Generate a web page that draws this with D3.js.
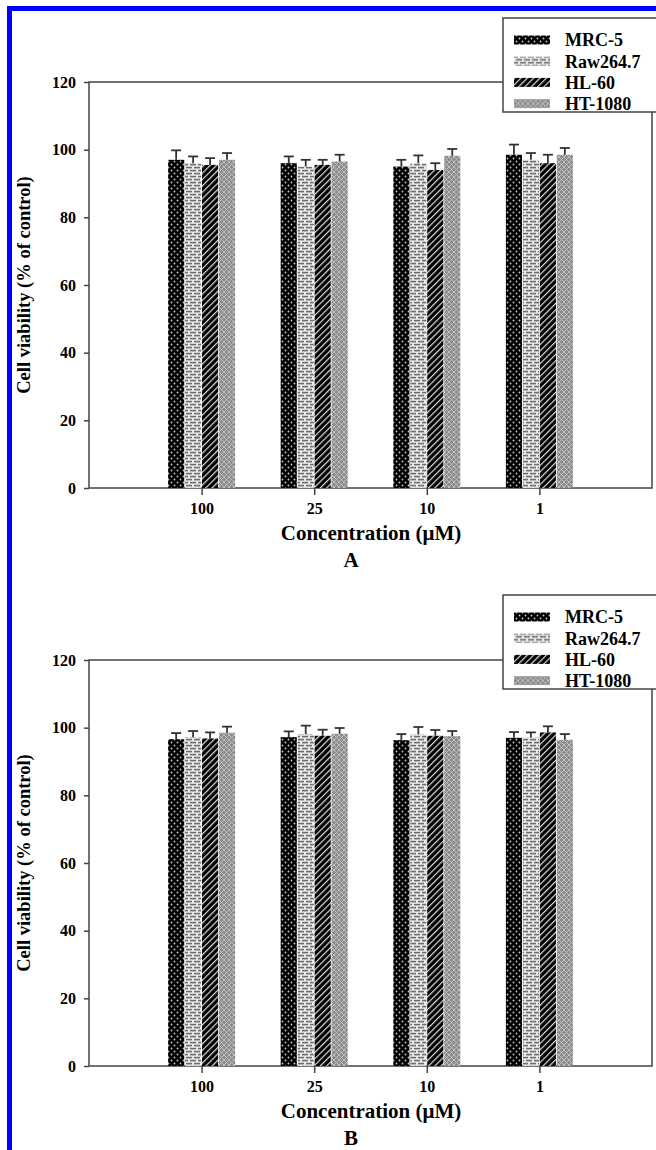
<!DOCTYPE html>
<html lang="en">
<head>
<meta charset="UTF-8">
<title>Cell viability</title>
<script src="https://cdn.jsdelivr.net/npm/d3@7"></script>
<style>
  body { margin: 0; background: #fff; }
  svg { display: block; font-family: "Liberation Serif", "Times New Roman", serif; }
</style>
</head>
<body>
<svg width="656" height="1150"></svg>
<script>
// categories / series
var concentrations = ["100", "25", "10", "1"];
var seriesNames = ["MRC-5", "Raw264.7", "HL-60", "HT-1080"];
var yTicks = [0, 20, 40, 60, 80, 100, 120];

// panel A means and errors (per series, per concentration)
var meanA_MRC5 = [97, 96, 95, 98.5];
var meanA_Raw = [96, 95, 96, 97];
var meanA_HL60 = [95.5, 95.5, 94, 96];
var meanA_HT1080 = [97, 96.5, 98.2, 98.5];
var errA_MRC5 = [2.8, 2, 2, 3];
var errA_Raw = [2, 2, 2.3, 2];
var errA_HL60 = [2, 1.5, 2, 2.5];
var errA_HT1080 = [2, 2, 2, 2];

// panel B
var meanB_MRC5 = [96.6, 97.2, 96.3, 97];
var meanB_Raw = [97.2, 98.1, 98, 97.1];
var meanB_HL60 = [96.8, 97.6, 97.6, 98.6];
var meanB_HT1080 = [98.5, 98.2, 97.5, 96.4];
var errB_MRC5 = [1.8, 1.7, 1.8, 1.7];
var errB_Raw = [1.8, 2.5, 2.2, 1.5];
var errB_HL60 = [1.8, 1.8, 1.7, 1.8];
var errB_HT1080 = [1.8, 1.7, 1.5, 1.7];

var svg = d3.select("svg");

// fill patterns for the four series
var defs = svg.append("defs");
var p;
p = defs.append("pattern").attr("id", "pat0").attr("patternUnits", "userSpaceOnUse")
  .attr("width", 6).attr("height", 6);
p.append("rect").attr("width", 6).attr("height", 6).attr("fill", "#000");
p.append("circle").attr("cx", 1.5).attr("cy", 1.5).attr("r", 0.9).attr("fill", "#c8c8c8");
p.append("circle").attr("cx", 4.5).attr("cy", 4.5).attr("r", 0.9).attr("fill", "#c8c8c8");

p = defs.append("pattern").attr("id", "pat1").attr("patternUnits", "userSpaceOnUse")
  .attr("width", 8).attr("height", 6);
p.append("rect").attr("width", 8).attr("height", 6).attr("fill", "#eaeaea");
p.append("rect").attr("x", 1).attr("y", 0.8).attr("width", 6).attr("height", 1.6).attr("fill", "#6e6e6e");
p.append("rect").attr("x", 0).attr("y", 3.8).attr("width", 3).attr("height", 1.6).attr("fill", "#6e6e6e");
p.append("rect").attr("x", 5).attr("y", 3.8).attr("width", 3).attr("height", 1.6).attr("fill", "#6e6e6e");

p = defs.append("pattern").attr("id", "pat2").attr("patternUnits", "userSpaceOnUse")
  .attr("width", 4.5).attr("height", 4.5).attr("patternTransform", "rotate(45)");
p.append("rect").attr("width", 4.5).attr("height", 4.5).attr("fill", "#000");
p.append("rect").attr("x", 0).attr("width", 1.2).attr("height", 4.5).attr("fill", "#ddd");

p = defs.append("pattern").attr("id", "pat3").attr("patternUnits", "userSpaceOnUse")
  .attr("width", 5).attr("height", 5);
p.append("rect").attr("width", 5).attr("height", 5).attr("fill", "#8c8c8c");
p.append("path").attr("d", "M0,0L5,5M5,0L0,5").attr("stroke", "#c4c4c4").attr("stroke-width", 0.9);

var fills = ["url(#pat0)", "url(#pat1)", "url(#pat2)", "url(#pat3)"];

// blue border (left and top only)
svg.append("rect").attr("x", 7).attr("y", 6).attr("width", 5).attr("height", 1150).attr("fill", "#0000ff");
svg.append("rect").attr("x", 7).attr("y", 6).attr("width", 660).attr("height", 5).attr("fill", "#0000ff");

var marge = {left: 89, right: 4};
var pw = 656 - marge.left - marge.right;
var ph = 406;

function drawPanel(top, means, errs, letter, legendTop) {
  var g = svg.append("g").attr("transform", "translate(" + marge.left + "," + top + ")");

  var x = d3.scalePoint().domain(concentrations).range([0, pw]).padding(1);
  var xs = d3.scaleBand().domain(seriesNames).range([-33.5, 33.5]).paddingInner(0.05);
  var y = d3.scaleLinear().domain([0, 120]).range([ph, 0]);

  // frame
  g.append("rect").attr("width", pw).attr("height", ph)
    .attr("fill", "none").attr("stroke", "#444").attr("stroke-width", 1.5);

  // bars
  var rows = [];
  seriesNames.forEach(function(s, si) {
    concentrations.forEach(function(c, ci) {
      rows.push({s: s, si: si, c: c, v: means[si][ci], e: errs[si][ci]});
    });
  });

  g.selectAll(".bar").data(rows).enter().append("rect")
    .attr("x", function(d) { return x(d.c) + xs(d.s); })
    .attr("y", function(d) { return y(d.v); })
    .attr("width", xs.bandwidth())
    .attr("height", function(d) { return ph - y(d.v); })
    .attr("fill", function(d) { return fills[d.si]; });

  // error bars, upward only
  var eb = g.selectAll(".err").data(rows).enter().append("g")
    .attr("transform", function(d) { return "translate(" + (x(d.c) + xs(d.s) + xs.bandwidth() / 2) + ",0)"; });
  eb.append("line")
    .attr("y1", function(d) { return y(d.v); })
    .attr("y2", function(d) { return y(d.v + d.e); })
    .attr("stroke", "#333").attr("stroke-width", 1.8);
  eb.append("line")
    .attr("x1", -5).attr("x2", 5)
    .attr("y1", function(d) { return y(d.v + d.e); })
    .attr("y2", function(d) { return y(d.v + d.e); })
    .attr("stroke", "#333").attr("stroke-width", 1.8);

  // axes
  var ya = g.append("g").call(d3.axisLeft(y).tickValues(yTicks).tickSize(5).tickPadding(8));
  var xa = g.append("g").attr("transform", "translate(0," + ph + ")")
    .call(d3.axisBottom(x).tickSize(7).tickPadding(8));
  [ya, xa].forEach(function(a) {
    a.attr("font-family", "Liberation Serif, serif").attr("font-size", 16).attr("font-weight", "bold");
    a.select(".domain").remove();
    a.selectAll(".tick line").attr("stroke", "#444").attr("stroke-width", 1.5);
    a.selectAll(".tick text").attr("fill", "#000");
  });

  // axis titles
  svg.append("text")
    .attr("transform", "translate(30," + (top + ph / 2) + ") rotate(-90)")
    .attr("text-anchor", "middle")
    .attr("font-size", 18.5).attr("font-weight", "bold")
    .text("Cell viability (% of control)");
  svg.append("text")
    .attr("x", 371).attr("y", top + ph + 52)
    .attr("text-anchor", "middle")
    .attr("font-size", 21).attr("font-weight", "bold")
    .text("Concentration (\u03bcM)");
  svg.append("text")
    .attr("x", 351).attr("y", top + ph + 79)
    .attr("text-anchor", "middle")
    .attr("font-size", 21).attr("font-weight", "bold")
    .text(letter);

  // legend
  var lg = svg.append("g").attr("transform", "translate(503," + legendTop + ")");
  lg.append("rect").attr("width", 160).attr("height", 94)
    .attr("fill", "#fff").attr("stroke", "#444").attr("stroke-width", 1.5);
  var li = lg.selectAll(".li").data(seriesNames).enter().append("g")
    .attr("transform", function(d, i) { return "translate(0," + (22 + i * 21.2) + ")"; });
  li.append("rect").attr("x", 11).attr("y", -4.5).attr("width", 36).attr("height", 9)
    .attr("fill", function(d, i) { return fills[i]; });
  li.append("text").attr("x", 62).attr("dy", "0.35em")
    .attr("font-size", 18).attr("font-weight", "bold")
    .text(function(d) { return d; });
}

drawPanel(82, [meanA_MRC5, meanA_Raw, meanA_HL60, meanA_HT1080],
  [errA_MRC5, errA_Raw, errA_HL60, errA_HT1080], "A", 18);
drawPanel(660, [meanB_MRC5, meanB_Raw, meanB_HL60, meanB_HT1080],
  [errB_MRC5, errB_Raw, errB_HL60, errB_HT1080], "B", 595);
</script>
</body>
</html>
